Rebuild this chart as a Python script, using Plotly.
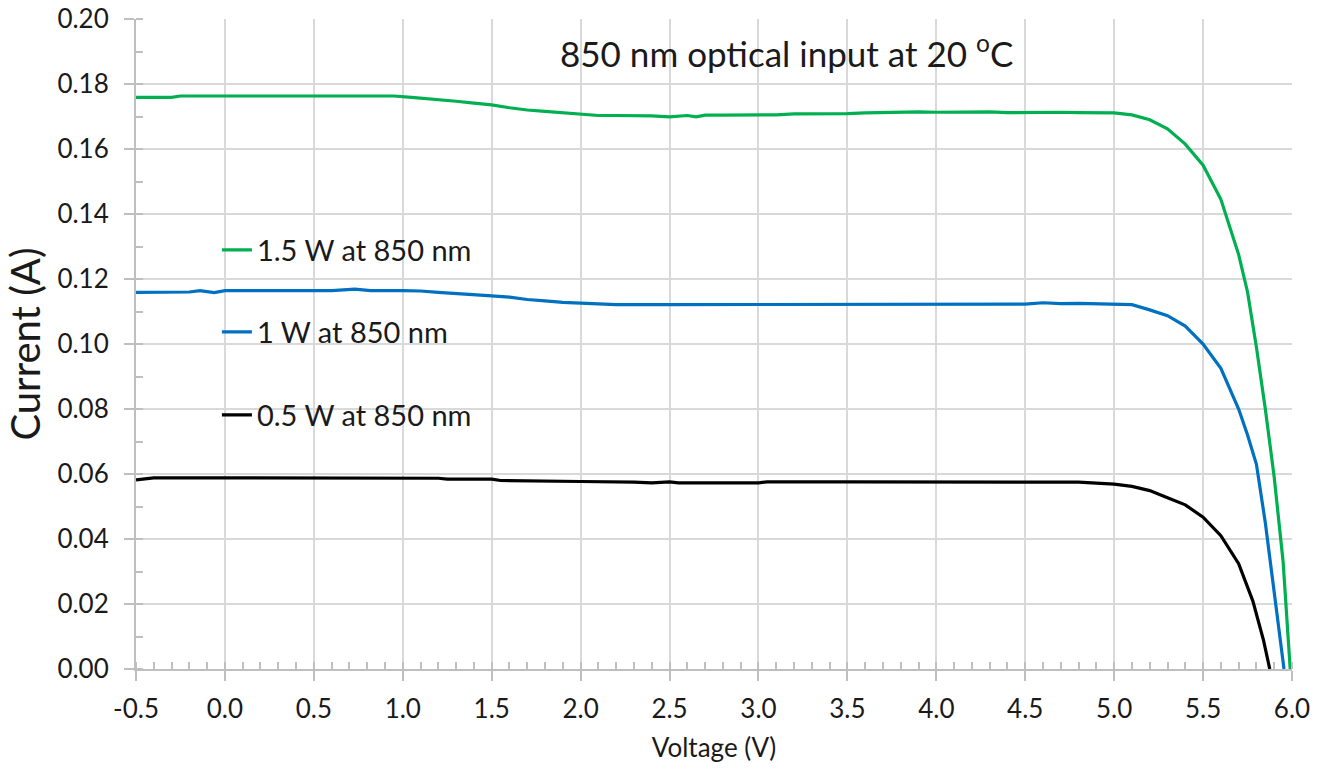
import plotly.graph_objects as go

# ---- data ----
green_v = [-0.5, -0.3, -0.25, 0.0, 0.5, 0.95, 1.05, 1.2, 1.3, 1.4, 1.5, 1.6, 1.7, 1.8, 1.9,
           2.0, 2.1, 2.2, 2.3, 2.4, 2.5, 2.55, 2.6, 2.65, 2.7, 2.8, 2.9, 3.0, 3.1, 3.2, 3.3,
           3.4, 3.5, 3.6, 3.7, 3.8, 3.9, 4.0, 4.1, 4.2, 4.3, 4.4, 4.5, 4.6, 4.7, 4.8, 4.9,
           5.0, 5.1, 5.2, 5.3, 5.4, 5.5, 5.6, 5.7, 5.75, 5.8, 5.85, 5.9, 5.95, 5.99]
green_i = [0.1759, 0.1759, 0.1763, 0.1763, 0.1763, 0.1763, 0.1759, 0.1753, 0.1747, 0.1741,
           0.1736, 0.1727, 0.1720, 0.1716, 0.1711, 0.1707, 0.1703, 0.1703, 0.1703, 0.1702,
           0.1699, 0.1700, 0.1703, 0.1699, 0.1704, 0.1704, 0.1704, 0.1704, 0.1705, 0.1708,
           0.1708, 0.1709, 0.1709, 0.1711, 0.1712, 0.1714, 0.1714, 0.1713, 0.1714, 0.1714,
           0.1714, 0.1712, 0.1713, 0.1712, 0.1713, 0.1712, 0.1712, 0.1711, 0.1705, 0.1690,
           0.1662, 0.1615, 0.1550, 0.1445, 0.1275, 0.1160, 0.0990, 0.0800, 0.0590, 0.0330, 0.0]

blue_v = [-0.5, -0.2, -0.14, -0.06, 0.0, 0.3, 0.6, 0.73, 0.82, 1.0, 1.1, 1.2, 1.3, 1.4, 1.5,
          1.6, 1.7, 1.8, 1.9, 2.0, 2.1, 2.2, 2.5, 3.0, 3.5, 3.6, 4.0, 4.5, 4.6, 4.7, 4.8,
          4.9, 5.0, 5.1, 5.2, 5.3, 5.4, 5.5, 5.6, 5.7, 5.75, 5.8, 5.85, 5.9, 5.955]
blue_i = [0.1159, 0.1160, 0.1164, 0.1158, 0.1164, 0.1164, 0.1164, 0.1169, 0.1164, 0.1164,
          0.1163, 0.1159, 0.1156, 0.1153, 0.1148, 0.1144, 0.1137, 0.1133, 0.1128, 0.1126,
          0.1124, 0.1121, 0.1121, 0.1121, 0.1121, 0.1123, 0.1123, 0.1123, 0.1127, 0.1124,
          0.1125, 0.1123, 0.1123, 0.1121, 0.1105, 0.1087, 0.1055, 0.1000, 0.0925, 0.0800,
          0.0720, 0.0630, 0.0450, 0.0240, 0.0]

black_v = [-0.5, -0.4, 0.0, 0.5, 1.0, 1.2, 1.25, 1.5, 1.55, 1.8, 2.0, 2.3, 2.4, 2.5, 2.55,
           3.0, 3.05, 3.5, 4.0, 4.5, 4.8, 4.9, 5.0, 5.1, 5.2, 5.3, 5.4, 5.5, 5.6, 5.7, 5.78,
           5.84, 5.875]
black_i = [0.0582, 0.0588, 0.0588, 0.0588, 0.0588, 0.0587, 0.0584, 0.0584, 0.0580, 0.0577,
           0.0577, 0.0575, 0.0573, 0.0576, 0.0573, 0.0573, 0.0576, 0.0576, 0.0576, 0.0576,
           0.0575, 0.0572, 0.0569, 0.0562, 0.0549, 0.0527, 0.0505, 0.0467, 0.0410, 0.0324,
           0.0209, 0.0088, 0.0]

series_names = ["1.5 W at 850 nm", "1 W at 850 nm", "0.5 W at 850 nm"]
series_colors = ["#00b050", "#0070c0", "#000000"]
x_tickvals = [-0.5, 0.0, 0.5, 1.0, 1.5, 2.0, 2.5, 3.0, 3.5, 4.0, 4.5, 5.0, 5.5, 6.0]
x_ticktext = ["-0.5", "0.0", "0.5", "1.0", "1.5", "2.0", "2.5", "3.0", "3.5", "4.0",
              "4.5", "5.0", "5.5", "6.0"]
y_tickvals = [0.0, 0.02, 0.04, 0.06, 0.08, 0.10, 0.12, 0.14, 0.16, 0.18, 0.20]
y_ticktext = ["0.00", "0.02", "0.04", "0.06", "0.08", "0.10", "0.12", "0.14", "0.16",
              "0.18", "0.20"]
title_text = "850 nm optical input at 20 <sup>o</sup>C"
x_title = "Voltage (V)"
y_title = "Current (A)"

FONT = "Lato, 'Open Sans', sans-serif"
TXT = "#1a1a1a"

fig = go.Figure()
data = [(green_v, green_i), (blue_v, blue_i), (black_v, black_i)]
legends = ["legend", "legend2", "legend3"]
for (xv, yv), name, col, lg in zip(data, series_names, series_colors, legends):
    fig.add_trace(go.Scatter(x=xv, y=yv, mode="lines", name=name, showlegend=True,
                             line=dict(color=col, width=3.2), legend=lg))

leg_common = dict(xanchor="left", yanchor="middle", bgcolor="rgba(0,0,0,0)",
                  font=dict(family=FONT, size=29, color=TXT), borderwidth=0)
fig.update_layout(
    width=1322, height=775,
    margin=dict(l=136, r=30, t=19, b=106),
    paper_bgcolor="white", plot_bgcolor="white",
    font=dict(family=FONT, color=TXT),
    showlegend=True,
    legend=dict(x=0.070, y=0.6446, **leg_common),
    legend2=dict(x=0.070, y=0.5185, **leg_common),
    legend3=dict(x=0.070, y=0.3908, **leg_common),
    annotations=[dict(text=title_text, xref="paper", yref="paper", x=0.5623, y=0.951,
                      xanchor="center", yanchor="middle", showarrow=False,
                      font=dict(family=FONT, size=35, color=TXT))],
)
fig.update_xaxes(
    range=[-0.5, 6.0], tickvals=x_tickvals, ticktext=x_ticktext,
    showgrid=True, gridcolor="#d9d9d9", gridwidth=1.5,
    showline=True, linecolor="#bfbfbf", linewidth=2,
    ticks="outside", ticklen=10, tickcolor="#bfbfbf", tickwidth=2,
    ticklabelstandoff=6, ticklabeloverflow="allow",
    minor=dict(ticks="inside", dtick=0.1, tick0=0, ticklen=7, tickcolor="#bfbfbf",
               tickwidth=2, showgrid=False),
    tickfont=dict(family=FONT, size=26, color=TXT),
    title=dict(text=x_title, font=dict(family=FONT, size=26, color=TXT), standoff=16),
    zeroline=False, automargin=False,
)
fig.update_yaxes(
    range=[0, 0.2], tickvals=y_tickvals, ticktext=y_ticktext,
    showgrid=True, gridcolor="#d9d9d9", gridwidth=1.5,
    showline=True, linecolor="#bfbfbf", linewidth=2,
    ticks="outside", ticklen=10, tickcolor="#bfbfbf", tickwidth=2,
    ticklabelstandoff=10, ticklabeloverflow="allow",
    minor=dict(ticks="inside", dtick=0.01, ticklen=7, tickcolor="#bfbfbf", tickwidth=2,
               showgrid=False),
    tickfont=dict(family=FONT, size=26, color=TXT),
    title=dict(text=y_title, font=dict(family=FONT, size=40, color=TXT), standoff=4),
    zeroline=False, automargin=False,
)
# remove the browser's default 8 px body margin so the figure fills the window exactly
fig.write_html("out.html", config={"displayModeBar": False},
               post_script="document.body.style.margin='0';document.body.style.overflow='hidden';")
